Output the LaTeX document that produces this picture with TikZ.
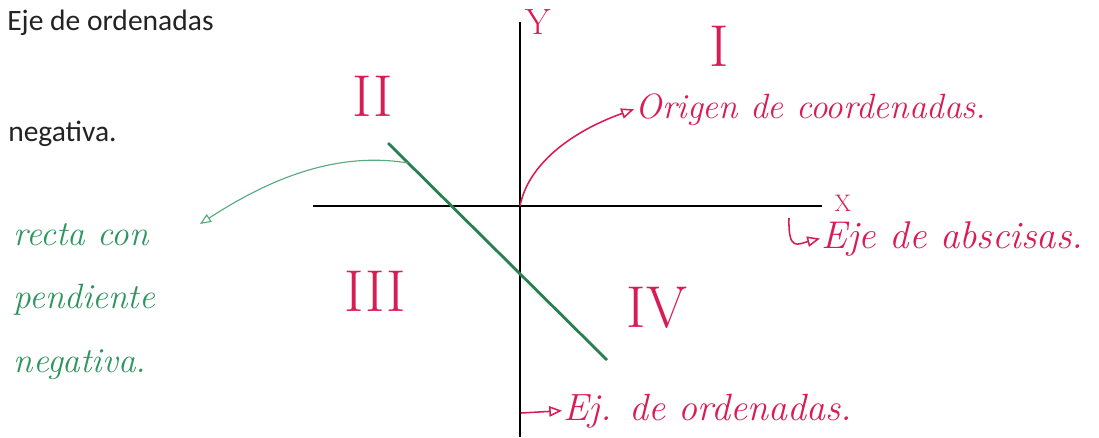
\documentclass[tikz,border=0pt]{standalone}
\usepackage{fontspec}
\newfontfamily\printfont{Carlito}
\usetikzlibrary{arrows, positioning}
\definecolor{penred}{RGB}{216, 28, 84}
\definecolor{pengreen}{RGB}{45, 150, 95}
\definecolor{inkgray}{RGB}{35, 35, 35}

\begin{document}
\begin{tikzpicture}[x=0.025cm, y=-0.025cm]
            \tikzstyle{axis} = [line width=1.3pt, black]
            \tikzstyle{print} = [inkgray, inner sep=0pt, font=\printfont\fontsize{21}{24}\selectfont]
            \tikzstyle{hand} = [penred, inner sep=1pt, font=\fontsize{26}{45}\selectfont\itshape]
            \tikzstyle{roman} = [penred, inner sep=0pt, font=\fontsize{42}{42}\selectfont]
            \tikzstyle{redarrow} = [line width=1.1pt, ->, >=open triangle 45, penred]
            \tikzstyle{greenarrow} = [line width=0.8pt, ->, >=open triangle 45, pengreen!80]

            \useasboundingbox (0,0) rectangle (1099,437);

            % ejes
            \coordinate (xl) at (313,206);
            \coordinate (xr) at (822,206);
            \coordinate (yt) at (520,22);
            \coordinate (yb) at (520,437);
            \coordinate (o) at (520,206);
            \draw[axis] (xl) -- (xr);
            \draw[axis] (yt) -- (yb);
            \node[penred, font=\fontsize{26}{26}\selectfont] (ylab) at (538,22) {Y};
            \node[penred, font=\fontsize{17}{17}\selectfont] (xlab) at (843,203) {X};

            % cuadrantes
            \node[roman] (q1) at (719,46) {I};
            \node[roman] (q2) at (373,96) {II};
            \node[roman] (q3) at (375,291) {III};
            \node[roman] (q4) at (657,308) {IV};

            % recta
            \coordinate (r1) at (388,143);
            \coordinate (r2) at (607,360);
            \draw[pengreen!85!black, line width=2pt] (r1) -- (r2);

            % textos impresos
            \node[print, anchor=base west] (tit) at (7,30) {Eje de ordenadas};
            \node[print, anchor=base west] (neg) at (8,141) {negativa.};

            % notas
            \node[hand, font=\fontsize{25}{45}\selectfont\itshape, anchor=base west] (origen) at (634,118) {Origen de coordenadas.};
            \node[hand, font=\fontsize{27.5}{45}\selectfont\itshape, anchor=base west] (absc) at (820,248) {Eje de abscisas.};
            \node[hand, font=\fontsize{27}{45}\selectfont\itshape, anchor=base west] (orde) at (562,420) {Ej. de ordenadas.};
            \node[hand, font=\fontsize{25}{45}\selectfont\itshape, pengreen, align=left, anchor=north west] (recta) at (12,222) {recta con\\pendiente\\negativa.};

            \coordinate (hk) at (789,218);
            \coordinate (yo) at (521,413);
            \coordinate (rs) at (408,163);
            \coordinate (rt) at (200,224);

            \draw[redarrow] (o) .. controls (528,165) and (570,132) .. (origen.west);
            \draw[redarrow] (hk) .. controls (788,252) and (798,244) .. (absc.west);
            \draw[redarrow] (yo) -- (orde.west);
            \draw[greenarrow] (rs) .. controls (330,150) and (260,185) .. (rt);
        \end{tikzpicture}
\end{document}
